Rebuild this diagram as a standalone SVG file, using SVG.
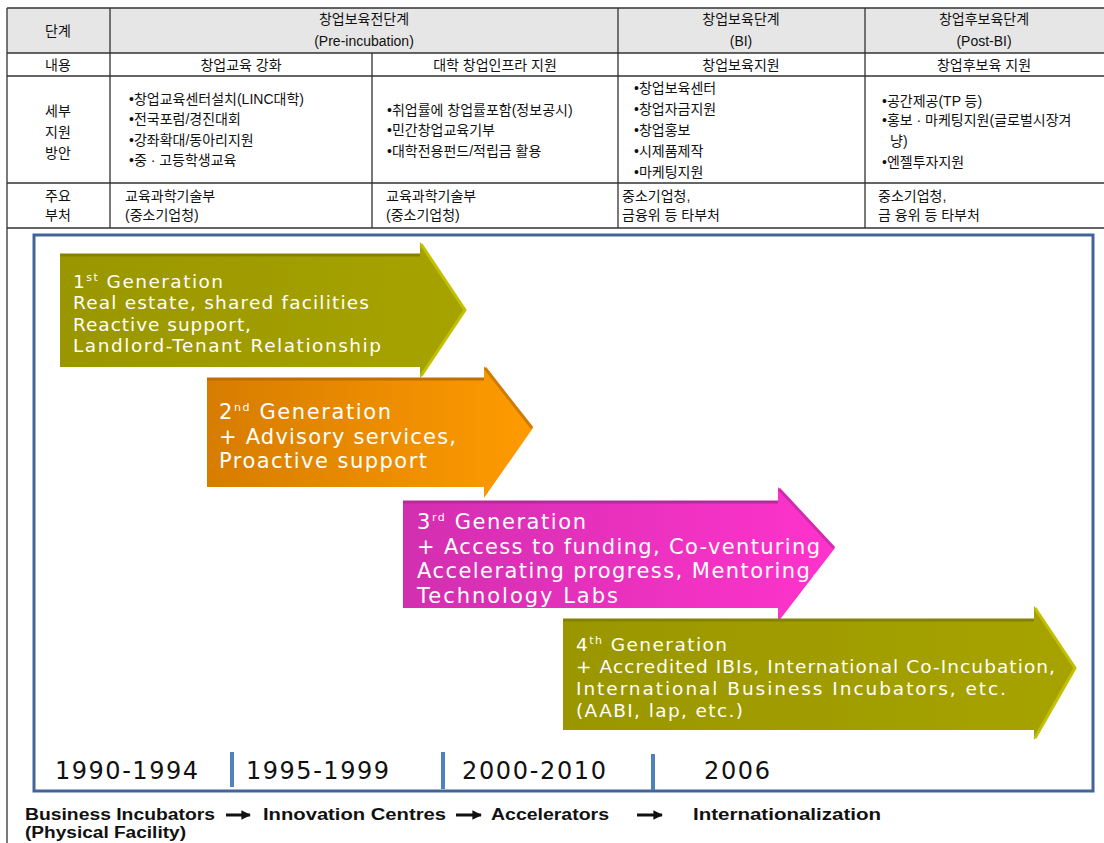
<svg xmlns="http://www.w3.org/2000/svg" width="1104" height="843" viewBox="0 0 1104 843">
<style>
.tl{stroke:#333;stroke-width:1.3;fill:none}
.kt{font-family:"Liberation Sans","Noto Sans CJK KR",sans-serif;font-size:14px;fill:#111}
.kc{text-anchor:middle}
.at{font-family:"DejaVu Sans","Liberation Sans",sans-serif;font-size:18.5px;fill:#fff}
.a2{font-size:21px}
.sup{font-size:11px}
.yr{font-family:"DejaVu Sans","Liberation Sans",sans-serif;font-size:24px;fill:#111}
.sep{stroke:#4f81bd;stroke-width:4}
.lg{font-family:"Liberation Sans Narrow","Liberation Sans",sans-serif;font-weight:bold;font-size:16px;fill:#111}
.cn{stroke:#111;stroke-width:3;fill:none}
</style>
<defs>
<linearGradient id="gOl" x1="0" x2="1" y1="0" y2="0"><stop offset="0" stop-color="#9a9600"/><stop offset="1" stop-color="#a6a300"/></linearGradient>
<linearGradient id="gOr" x1="0" x2="1" y1="0" y2="0"><stop offset="0" stop-color="#d67c00"/><stop offset="1" stop-color="#ff9b00"/></linearGradient>
<linearGradient id="gMg" x1="0" x2="1" y1="0" y2="0"><stop offset="0" stop-color="#d22fb0"/><stop offset="1" stop-color="#ff33cc"/></linearGradient>
<marker id="ah" viewBox="0 0 10 10" refX="9" refY="5" markerWidth="3.2" markerHeight="3.2" orient="auto"><path d="M0,0 L10,5 L0,10 Z" fill="#111"/></marker>
</defs>
<rect width="1104" height="843" fill="#fff"/>
<g id="table">
<rect x="7" y="8" width="1097" height="45" fill="#e6e6e6"/>
<path class="tl" d="M7,8 H1104 M7,53 H1104 M7,76 H1104 M7,183 H1104 M7,228 H1104 M7,8 V843 M110,8 V228 M372,53 V228 M618,8 V228 M865,8 V228"/>
<text class="kt kc" x="58" y="36">단계</text>
<text class="kt kc" x="364" y="24">창업보육전단계</text>
<text class="kt kc" x="364" y="46">(Pre-incubation)</text>
<text class="kt kc" x="741" y="24">창업보육단계</text>
<text class="kt kc" x="741" y="46">(BI)</text>
<text class="kt kc" x="984" y="24">창업후보육단계</text>
<text class="kt kc" x="984" y="46">(Post-BI)</text>
<text class="kt kc" x="58" y="70">내용</text>
<text class="kt kc" x="241" y="70">창업교육 강화</text>
<text class="kt kc" x="495" y="70">대학 창업인프라 지원</text>
<text class="kt kc" x="741" y="70">창업보육지원</text>
<text class="kt kc" x="984" y="70">창업후보육 지원</text>
<text class="kt kc" x="58" y="116">세부</text>
<text class="kt kc" x="58" y="137">지원</text>
<text class="kt kc" x="58" y="158">방안</text>
<text class="kt" x="129" y="104">•창업교육센터설치(LINC대학)</text>
<text class="kt" x="129" y="124">•전국포럼/경진대회</text>
<text class="kt" x="129" y="145">•강좌확대/동아리지원</text>
<text class="kt" x="129" y="165">•중 · 고등학생교육</text>
<text class="kt" x="387" y="115">•취업률에 창업률포함(정보공시)</text>
<text class="kt" x="387" y="135">•민간창업교육기부</text>
<text class="kt" x="387" y="156">•대학전용펀드/적립금 활용</text>
<text class="kt" x="634" y="93">•창업보육센터</text>
<text class="kt" x="634" y="114">•창업자금지원</text>
<text class="kt" x="634" y="135">•창업홍보</text>
<text class="kt" x="634" y="156">•시제품제작</text>
<text class="kt" x="634" y="177">•마케팅지원</text>
<text class="kt" x="882" y="106">•공간제공(TP 등)</text>
<text class="kt" x="882" y="125">•홍보 · 마케팅지원(글로벌시장겨</text>
<text class="kt" x="890" y="146">냥)</text>
<text class="kt" x="882" y="167">•엔젤투자지원</text>
<text class="kt kc" x="58" y="201">주요</text>
<text class="kt kc" x="58" y="220">부처</text>
<text class="kt" x="125" y="201">교육과학기술부</text>
<text class="kt" x="125" y="220">(중소기업청)</text>
<text class="kt" x="386" y="201">교육과학기술부</text>
<text class="kt" x="386" y="220">(중소기업청)</text>
<text class="kt" x="622" y="201">중소기업청,</text>
<text class="kt" x="622" y="220">금융위 등 타부처</text>
<text class="kt" x="878" y="201">중소기업청,</text>
<text class="kt" x="878" y="220">금 융위 등 타부처</text>
</g>
<g id="frame">
<rect x="34" y="235" width="1059" height="556" fill="none" stroke="#41659a" stroke-width="3"/>
</g>
<g id="gen1">
<path d="M60,255 H420 V242 L466,310 L420,378 V367 H60 Z" fill="url(#gOl)"/>
<path d="M60,255 H420" stroke="#858200" stroke-width="3"/>
<polyline points="421,244 465,310 421,376" fill="none" stroke="#c2c000" stroke-width="3"/>
<text class="at" x="73" y="288" textLength="150" lengthAdjust="spacing">1<tspan class="sup" dy="-7">st</tspan><tspan dy="7"> Generation</tspan></text>
<text class="at" x="73" y="309" textLength="296" lengthAdjust="spacing">Real estate, shared facilities</text>
<text class="at" x="73" y="331" textLength="178" lengthAdjust="spacing">Reactive support,</text>
<text class="at" x="73" y="352" textLength="308" lengthAdjust="spacing">Landlord-Tenant Relationship</text>
</g>
<g id="gen2">
<path d="M207,379 H484 V366 L533,428 L484,498 V487 H207 Z" fill="url(#gOr)"/>
<path d="M207,379 H484" stroke="#c06e00" stroke-width="3"/>
<polyline points="485,368 532,428" fill="none" stroke="#d07a00" stroke-width="3"/>
<text class="at a2" x="219" y="419" textLength="172" lengthAdjust="spacing">2<tspan class="sup" dy="-8">nd</tspan><tspan dy="8"> Generation</tspan></text>
<text class="at a2" x="219" y="444" textLength="237" lengthAdjust="spacing">+ Advisory services,</text>
<text class="at a2" x="219" y="468" textLength="208" lengthAdjust="spacing">Proactive support</text>
</g>
<g id="gen3">
<path d="M403,502 H778 V487 L835,548 L778,622 V608 H403 Z" fill="url(#gMg)"/>
<path d="M403,502 H778" stroke="#b82a9a" stroke-width="3"/>
<polyline points="779,489 834,548" fill="none" stroke="#d02cae" stroke-width="3"/>
<text class="at a2" x="417" y="529" textLength="169" lengthAdjust="spacing">3<tspan class="sup" dy="-8">rd</tspan><tspan dy="8"> Generation</tspan></text>
<text class="at a2" x="417" y="554" textLength="403" lengthAdjust="spacing">+ Access to funding, Co-venturing</text>
<text class="at a2" x="417" y="578" textLength="401" lengthAdjust="spacing">Accelerating progress, Mentoring,</text>
<text class="at a2" x="417" y="603" textLength="201" lengthAdjust="spacing">Technology Labs</text>
</g>
<g id="gen4">
<path d="M563,620 H1034 V606 L1076,668 L1034,740 V730 H563 Z" fill="url(#gOl)"/>
<path d="M563,620 H1034" stroke="#858200" stroke-width="3"/>
<polyline points="1035,608 1075,668 1035,738" fill="none" stroke="#c2c000" stroke-width="3"/>
<text class="at" x="576" y="651" textLength="151" lengthAdjust="spacing">4<tspan class="sup" dy="-7">th</tspan><tspan dy="7"> Generation</tspan></text>
<text class="at" x="576" y="673" textLength="479" lengthAdjust="spacing">+ Accredited IBIs, International Co-Incubation,</text>
<text class="at" x="576" y="695" textLength="430" lengthAdjust="spacing">International Business Incubators, etc.</text>
<text class="at" x="576" y="717" textLength="167" lengthAdjust="spacing">(AABI, lap, etc.)</text>
</g>
<g id="timeline">
<text class="yr" x="55" y="779" textLength="143" lengthAdjust="spacing">1990-1994</text>
<text class="yr" x="246" y="779" textLength="143" lengthAdjust="spacing">1995-1999</text>
<text class="yr" x="462" y="779" textLength="144" lengthAdjust="spacing">2000-2010</text>
<text class="yr" x="704" y="779" textLength="66" lengthAdjust="spacing">2006</text>
<line class="sep" x1="232" y1="752" x2="232" y2="787"/>
<line class="sep" x1="443" y1="752" x2="443" y2="789"/>
<line class="sep" x1="653" y1="754" x2="653" y2="790"/>
</g>
<g id="legend">
<text class="lg" x="25" y="820" textLength="190" lengthAdjust="spacingAndGlyphs">Business Incubators</text>
<text class="lg" x="263" y="820" textLength="183" lengthAdjust="spacingAndGlyphs">Innovation Centres</text>
<text class="lg" x="491" y="820" textLength="118" lengthAdjust="spacingAndGlyphs">Accelerators</text>
<text class="lg" x="693" y="820" textLength="188" lengthAdjust="spacingAndGlyphs">Internationalization</text>
<text class="lg" x="25" y="838" textLength="161" lengthAdjust="spacingAndGlyphs">(Physical Facility)</text>
</g>
<g id="connectors">
<line class="cn" x1="226" y1="815" x2="250" y2="815" marker-end="url(#ah)"/>
<line class="cn" x1="456" y1="815" x2="481" y2="815" marker-end="url(#ah)"/>
<line class="cn" x1="637" y1="815" x2="662" y2="815" marker-end="url(#ah)"/>
</g>
</svg>
